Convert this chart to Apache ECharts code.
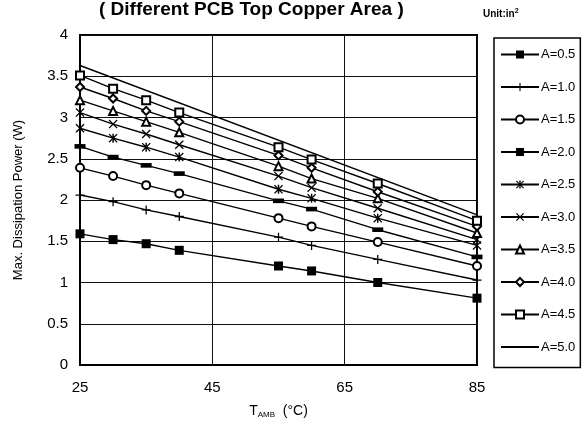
<!DOCTYPE html>
<html>
<head>
<meta charset="utf-8">
<script src="https://cdn.jsdelivr.net/npm/echarts@6/dist/echarts.min.js"></script>
<style>
html,body{margin:0;padding:0;background:#fff;}
#chart{width:582px;height:426px;}
</style>
</head>
<body>
<div id="chart"></div>
<script>
const temps = [25, 30, 35, 40, 55, 60, 70, 85];
const tempsA50 = [25, 85];
const seriesNames = ['A=0.5','A=1.0','A=1.5','A=2.0','A=2.5','A=3.0','A=3.5','A=4.0','A=4.5','A=5.0'];
const A05 = [1.59, 1.52, 1.47, 1.39, 1.20, 1.14, 1.00, 0.81];
const A10 = [2.06, 1.98, 1.88, 1.80, 1.55, 1.45, 1.28, 1.03];
const A15 = [2.39, 2.29, 2.18, 2.08, 1.78, 1.68, 1.49, 1.20];
const A20 = [2.65, 2.52, 2.42, 2.32, 1.99, 1.89, 1.64, 1.31];
const A25 = [2.87, 2.75, 2.64, 2.52, 2.13, 2.02, 1.78, 1.45];
const A30 = [3.06, 2.92, 2.80, 2.67, 2.29, 2.15, 1.90, 1.52];
const A35 = [3.21, 3.08, 2.95, 2.82, 2.41, 2.26, 2.02, 1.60];
const A40 = [3.37, 3.23, 3.08, 2.95, 2.54, 2.39, 2.10, 1.68];
const A45 = [3.51, 3.35, 3.21, 3.06, 2.64, 2.49, 2.20, 1.75];
const A50 = [3.63, 1.82];
const xTicks = [25, 45, 65, 85];

const plusPath = 'path://M0,4.3L10,4.3L10,5.7L0,5.7Z M4.3,0L5.7,0L5.7,10L4.3,10Z';
const xPath = 'path://M1,0L5,4L9,0L10,1L6,5L10,9L9,10L5,6L1,10L0,9L4,5L0,1Z';
const starPath = 'path://M1,0L5,4L9,0L10,1L6,5L10,9L9,10L5,6L1,10L0,9L4,5L0,1Z M4.2,0L5.8,0L5.8,10L4.2,10Z';
const dashPath = 'path://M0,0L10,0L10,4.2L0,4.2Z';

const pairs = (xs, ys) => xs.map((x, i) => [x, ys[i]]);
const valueSets = [A05, A10, A15, A20, A25, A30, A35, A40, A45];
const symbols = [
  {symbol: 'rect', size: 9, bw: 0},
  {symbol: plusPath, size: 9, bw: 0},
  {symbol: 'emptyCircle', size: 8, bw: 1.2},
  {symbol: dashPath, size: 11, bw: 0},
  {symbol: starPath, size: 9, bw: 0},
  {symbol: xPath, size: 9, bw: 0},
  {symbol: 'emptyTriangle', size: 8, bw: 1.2},
  {symbol: 'emptyDiamond', size: 8, bw: 1.2},
  {symbol: 'emptyRect', size: 8, bw: 1.2}
];

const series = valueSets.map((vals, i) => ({
  name: seriesNames[i],
  type: 'line',
  data: pairs(temps, vals),
  symbol: symbols[i].symbol,
  symbolSize: symbols[i].size,
  symbolKeepAspect: true,
  showAllSymbol: true,
  lineStyle: {color: '#000', width: 1.4},
  itemStyle: {color: '#000', borderColor: '#000', borderWidth: symbols[i].bw},
  emphasis: {disabled: true},
  animation: false,
  z: 3
}));
series.push({
  name: seriesNames[9],
  type: 'line',
  data: pairs(tempsA50, A50),
  symbol: 'none',
  lineStyle: {color: '#000', width: 1.4},
  itemStyle: {color: '#000'},
  animation: false,
  z: 3
});

const legendData = seriesNames.map((n, i) => i === 9
  ? {name: n, itemStyle: {opacity: 0, color: 'rgba(0,0,0,0)', borderColor: 'rgba(0,0,0,0)'}}
  : {name: n});

const chart = echarts.init(document.getElementById('chart'));
chart.setOption({
  animation: false,
  backgroundColor: '#fff',
  title: [
    {text: '( Different PCB Top Copper Area )', left: 99, top: 0, padding: 0,
     textStyle: {fontFamily: 'Liberation Sans, Arial', fontSize: 19, fontWeight: 'bold', color: '#000'}},
    {text: 'Unit:in{sup|2}', left: 483, top: 8, padding: 0,
     textStyle: {fontFamily: 'Liberation Sans, Arial', fontSize: 10, fontWeight: 'bold', color: '#000',
       rich: {sup: {fontSize: 7, fontWeight: 'bold', verticalAlign: 'top', padding: [0, 0, 5, 0]}}}}
  ],
  grid: {left: 80, right: 105, top: 35, bottom: 61, show: true, borderColor: '#000', borderWidth: 2,
         backgroundColor: 'transparent', outerBoundsMode: 'none', containLabel: false},
  legend: {
    orient: 'vertical', left: 494, top: 38,
    data: legendData,
    itemWidth: 38, itemHeight: 10, itemGap: 19.5,
    padding: [10, 5, 14, 6],
    borderColor: '#000', borderWidth: 1.5,
    textStyle: {fontFamily: 'Liberation Sans, Arial', fontSize: 13, color: '#000', padding: [0, 0, 0, -3]},
    selectedMode: false
  },
  xAxis: {
    type: 'value', min: 25, max: 85,
    name: '{t|T}{s|AMB}{t|  (°C)}',
    nameLocation: 'middle', nameGap: 38,
    nameTextStyle: {color: '#000', rich: {
      t: {fontFamily: 'Liberation Sans, Arial', fontSize: 14, color: '#000'},
      s: {fontFamily: 'Liberation Sans, Arial', fontSize: 8, color: '#000', padding: [8, 0, 0, 0]}
    }},
    axisLine: {show: true, lineStyle: {color: '#000', width: 2}},
    axisTick: {show: false, customValues: xTicks},
    axisLabel: {customValues: xTicks, color: '#000', fontFamily: 'Liberation Sans, Arial', fontSize: 15, margin: 15},
    splitLine: {show: true, lineStyle: {color: '#111', width: 1}}
  },
  yAxis: {
    type: 'value', min: 0, max: 4, interval: 0.5,
    name: 'Max. Dissipation Power (W)',
    nameLocation: 'middle', nameGap: 55,
    nameTextStyle: {fontFamily: 'Liberation Sans, Arial', fontSize: 13, color: '#000'},
    axisLine: {show: true, lineStyle: {color: '#000', width: 2}},
    axisTick: {show: false},
    axisLabel: {color: '#000', fontFamily: 'Liberation Sans, Arial', fontSize: 15, margin: 12},
    splitLine: {show: true, lineStyle: {color: '#111', width: 1}}
  },
  series: series
});
</script>
</body>
</html>
